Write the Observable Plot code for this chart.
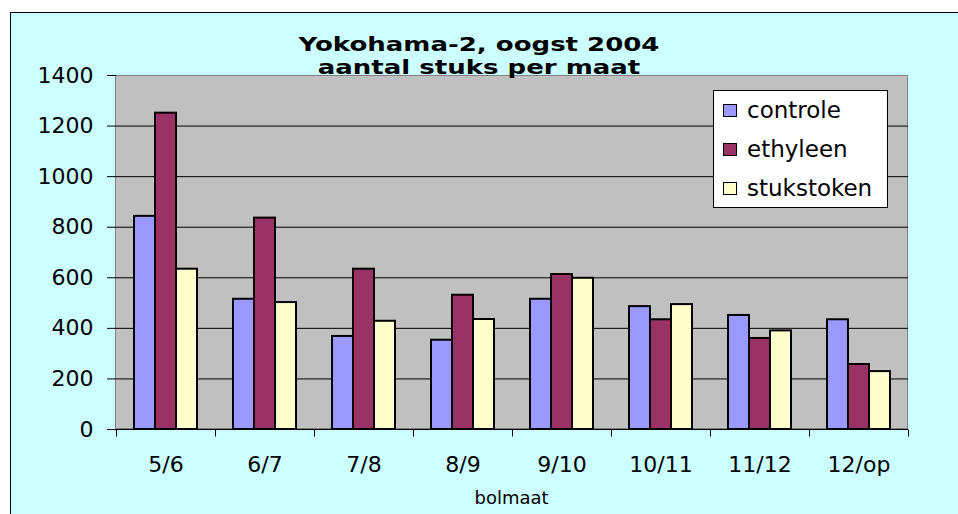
<!DOCTYPE html>
<html>
<head>
<meta charset="utf-8">
<script src="https://cdn.jsdelivr.net/npm/d3@7"></script>
<script src="https://cdn.jsdelivr.net/npm/@observablehq/plot@0.6"></script>
<style>
  html, body { margin: 0; padding: 0; background: #fff; }
  #wrap { position: relative; width: 958px; height: 514px; overflow: hidden; font-family: "DejaVu Sans", sans-serif; color: #000; }
  #frame { position: absolute; left: 10px; top: 12px; width: 960px; height: 520px; background: #CCFFFF; border: 1px solid #000; }
  #plotbg { position: absolute; left: 115px; top: 75px; width: 793px; height: 354px; box-sizing: border-box; background: #C0C0C0; border: 1px solid #808080; }
  #chart { position: absolute; left: 0; top: 0; }
  #title { position: absolute; left: 0; width: 958px; top: 33px; text-align: center; font-weight: bold; font-size: 26px; line-height: 30px; transform: scaleY(0.75); transform-origin: center top; }
  #xlabel { position: absolute; left: 115px; width: 793px; top: 487px; text-align: center; font-size: 18px; line-height: 22px; }
  #legend { position: absolute; left: 713px; top: 90px; width: 175px; height: 118px; box-sizing: border-box; background: #fff; border: 1px solid #000; padding-top: 0px; }
  .item { position: relative; height: 39px; line-height: 39px; font-size: 23px; padding-left: 33px; white-space: nowrap; }
  .sw { position: absolute; left: 9px; top: 13px; width: 14px; height: 13px; box-sizing: border-box; border: 1px solid #000; }
</style>
</head>
<body>
<div id="wrap">
  <div id="frame"></div>
  <div id="plotbg"></div>
  <div id="chart"></div>
  <div id="title"></div>
  <div id="xlabel"></div>
  <div id="legend"></div>
</div>
<script>
const titleLines = ["Yokohama-2, oogst 2004", "aantal stuks per maat"];
const xAxisLabel = "bolmaat";
const categories = ["5/6", "6/7", "7/8", "8/9", "9/10", "10/11", "11/12", "12/op"];
const seriesNames = ["controle", "ethyleen", "stukstoken"];
const controle   = [843, 515, 368, 353, 515, 486, 451, 434];
const ethyleen   = [1251, 836, 634, 531, 613, 434, 360, 257];
const stukstoken = [634, 502, 428, 435, 598, 494, 390, 229];
const yTicks = [0, 200, 400, 600, 800, 1000, 1200, 1400];
const seriesColors = ["#9999FF", "#993366", "#FFFFCC"];

const seriesValues = [controle, ethyleen, stukstoken];
const data = categories.flatMap((c, i) =>
  seriesNames.map((s, j) => ({cat: c, series: s, value: seriesValues[j][i]}))
);

const tickSymbol = { draw(ctx) { ctx.moveTo(0, 0); ctx.lineTo(0, 7); } };

const chart = Plot.plot({
  width: 958,
  height: 514,
  marginLeft: 115,
  marginRight: 50,
  marginTop: 75,
  marginBottom: 85,
  style: { background: "transparent", fontFamily: "DejaVu Sans, sans-serif", fontSize: "22px", color: "#000", overflow: "visible" },
  fx: { domain: categories, padding: 0, label: null },
  x: { domain: seriesNames, paddingInner: 0, paddingOuter: 0.78, axis: null },
  y: { domain: [0, 1400], label: null },
  color: { domain: seriesNames, range: seriesColors },
  marks: [
    Plot.gridY(yTicks.slice(1, -1), { stroke: "#000", strokeOpacity: 1, strokeWidth: 1 }),
    Plot.barY(data, { fx: "cat", x: "series", y: "value", fill: "series", stroke: "#000", strokeWidth: 2 }),
    Plot.ruleY([0], { stroke: "#000", strokeWidth: 1 }),
    Plot.dot(categories, { fx: d => d, x: null, y: null, frameAnchor: "bottom-left", symbol: tickSymbol, fill: "none", stroke: "#000", strokeWidth: 1 }),
    Plot.dot(categories.slice(-1), { fx: d => d, x: null, y: null, frameAnchor: "bottom-right", symbol: tickSymbol, fill: "none", stroke: "#000", strokeWidth: 1 }),
    Plot.axisY(yTicks, { tickSize: 9, tickPadding: 14, tickFormat: d => String(d), label: null, fontSize: 22, stroke: "#000", strokeOpacity: 1 }),
    Plot.axisFx({ anchor: "bottom", tickSize: 0, tickPadding: 27, label: null, fontSize: 22 })
  ]
});
document.getElementById("chart").appendChild(chart);

document.getElementById("title").innerHTML = titleLines.join("<br>");
document.getElementById("xlabel").textContent = xAxisLabel;
const legend = document.getElementById("legend");
seriesNames.forEach((s, i) => {
  const item = document.createElement("div");
  item.className = "item";
  const sw = document.createElement("span");
  sw.className = "sw";
  sw.style.background = seriesColors[i];
  item.appendChild(sw);
  item.appendChild(document.createTextNode(s));
  legend.appendChild(item);
});
</script>
</body>
</html>
